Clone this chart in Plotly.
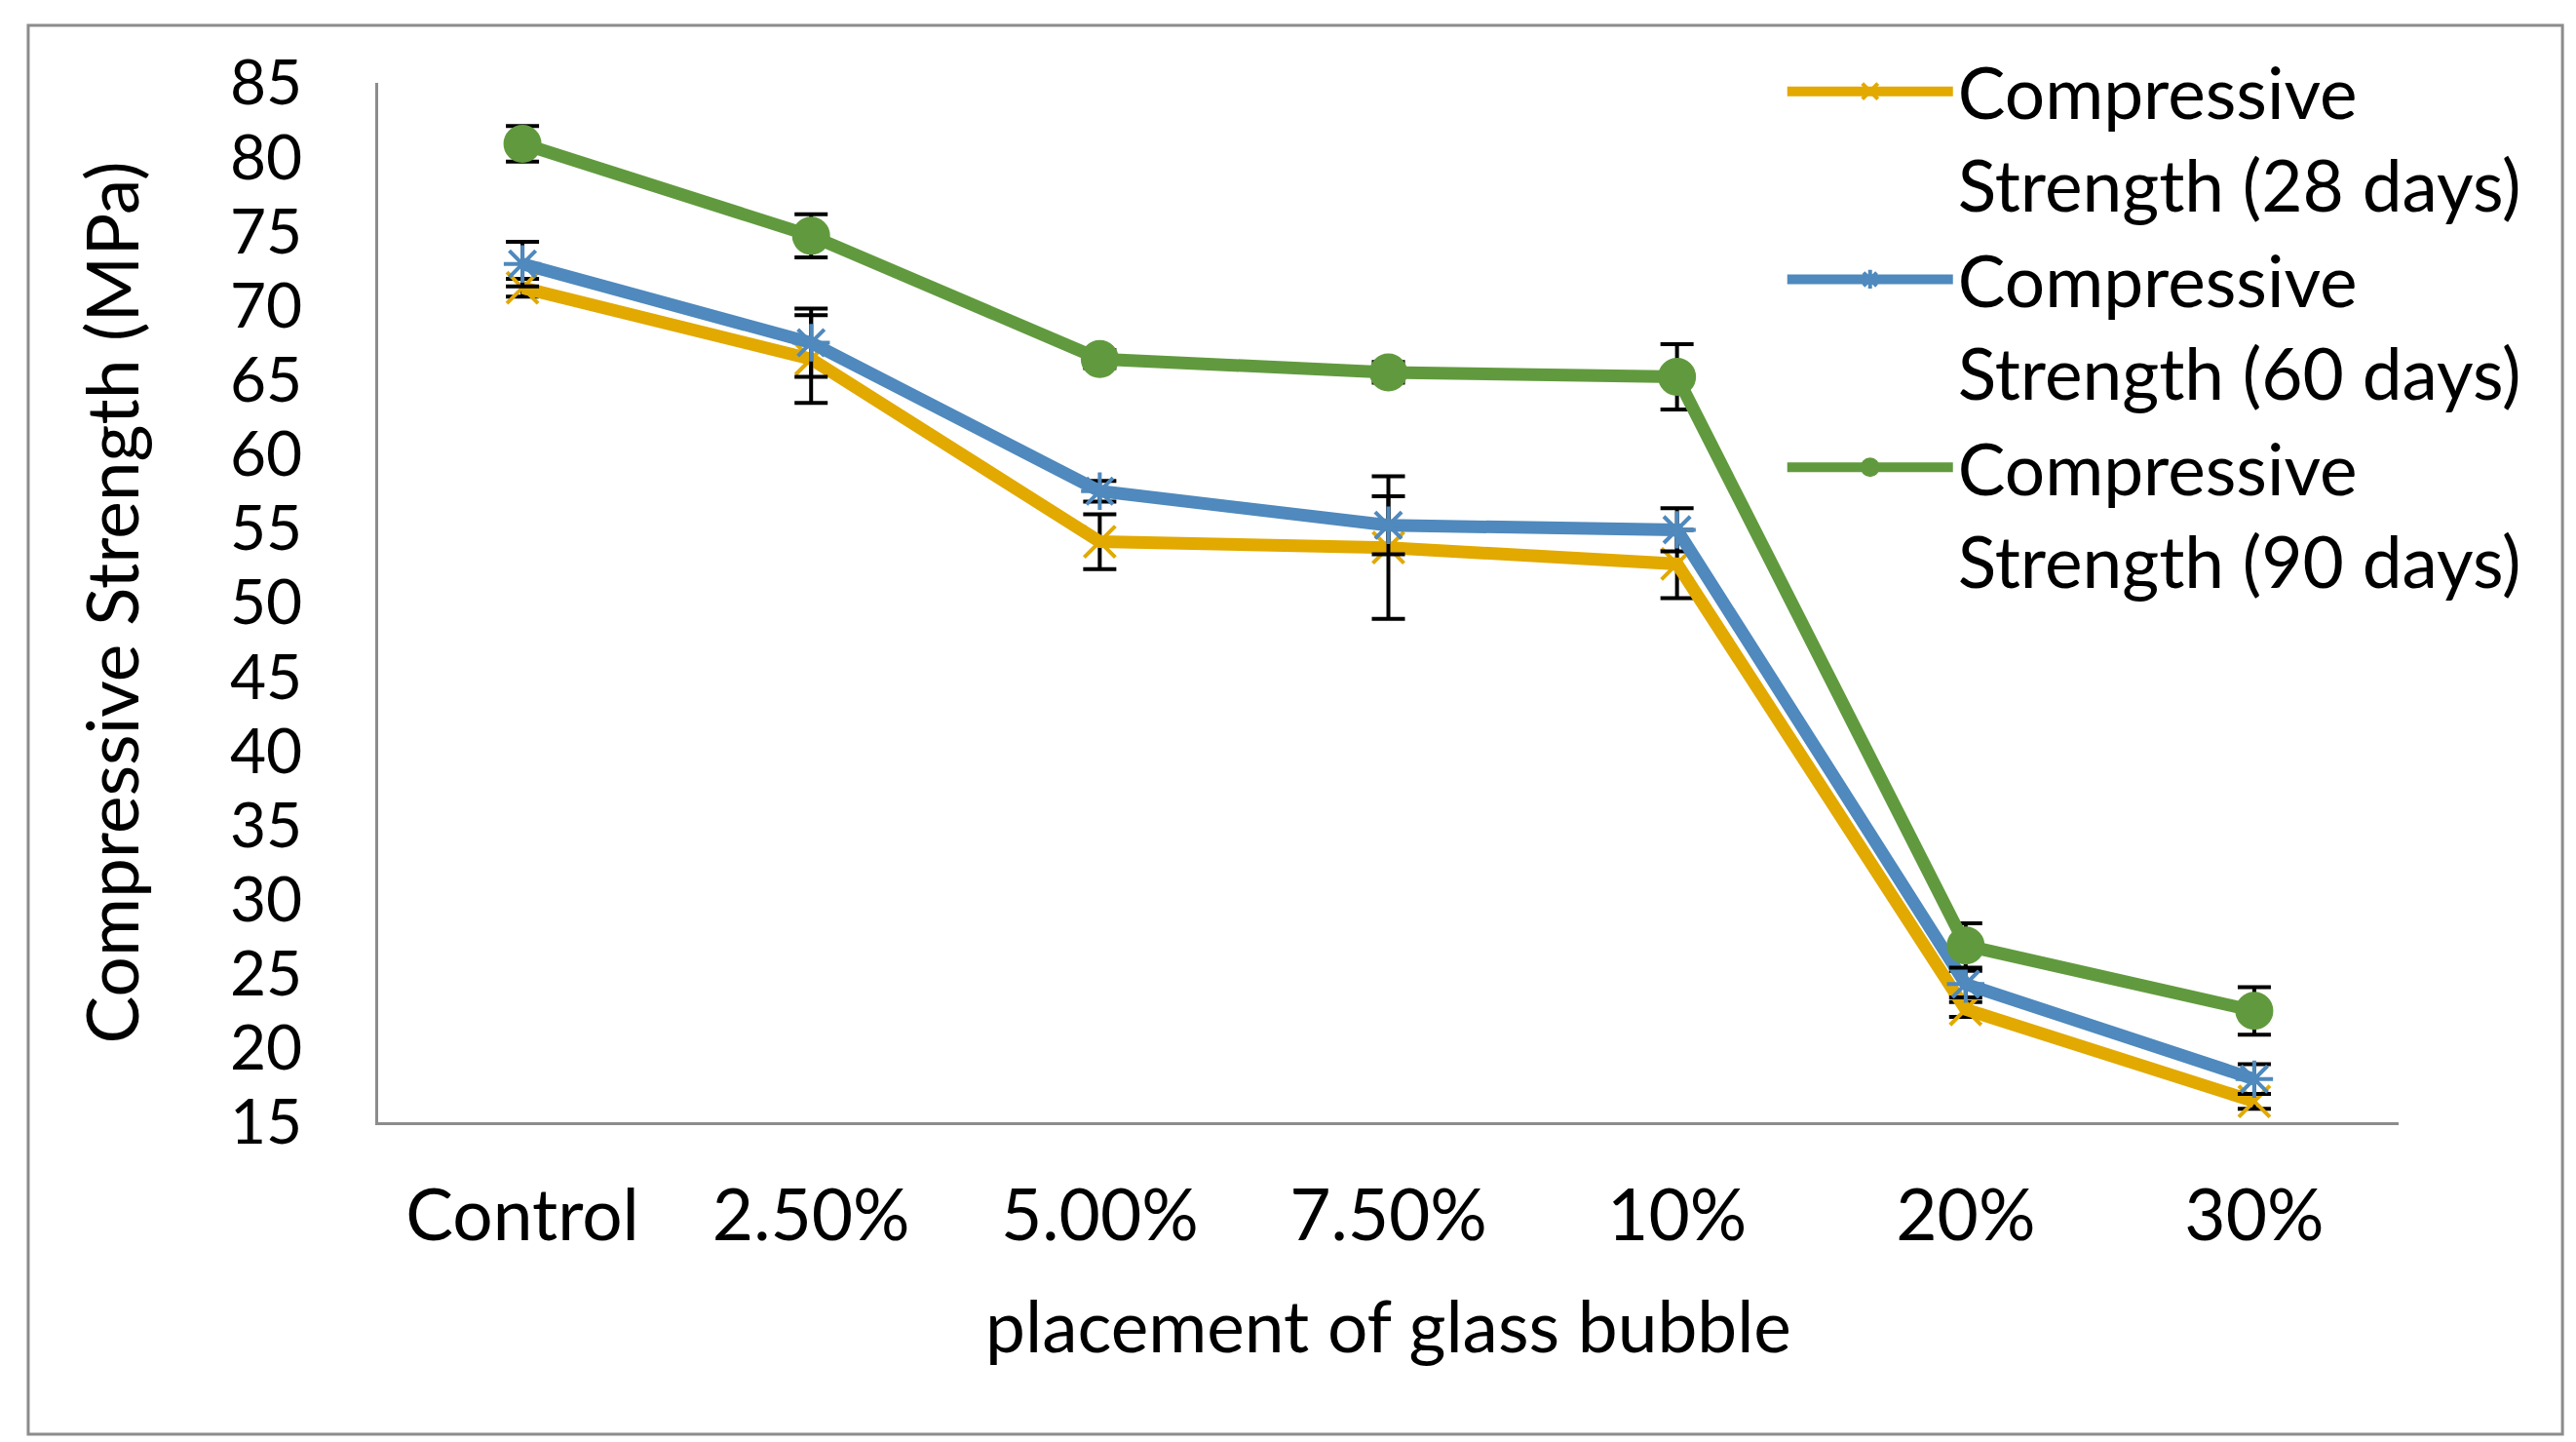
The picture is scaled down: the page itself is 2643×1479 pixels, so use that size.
import plotly.graph_objects as go

categories = ["Control", "2.50%", "5.00%", "7.50%", "10%", "20%", "30%"]

s28 = [71.2, 66.4, 54.1, 53.7, 52.6, 22.6, 16.4]
e28 = [0.6, 2.95, 1.85, 4.8, 2.3, 0.5, 0.5]
s60 = [72.8, 67.5, 57.5, 55.2, 54.9, 24.3, 17.9]
e60 = [1.5, 2.3, 0.7, 1.95, 1.45, 0.9, 1.0]
s90 = [80.9, 74.7, 66.4, 65.5, 65.2, 26.9, 22.5]
e90 = [1.2, 1.45, 0.6, 0.7, 2.2, 1.5, 1.6]

names = ["Compressive<br>Strength (28 days)",
         "Compressive<br>Strength (60 days)",
         "Compressive<br>Strength (90 days)"]

y_ticks = list(range(15, 86, 5))

FONT = "Lato"
FS = 73

fig = go.Figure()

series = [
    (s28, e28, names[0], "#E2A900", "x-thin-open", 32),
    (s60, e60, names[1], "#4F89BD", "asterisk-open", 32),
    (s90, e90, names[2], "#619A3E", "circle", 35),
]
for vals, errs, name, color, sym, size in series:
    fig.add_trace(go.Scatter(
        x=categories, y=vals, name=name, mode="lines+markers",
        line=dict(color=color, width=13),
        marker=dict(symbol=sym, size=size, color=color,
                    line=dict(color=color, width=4)),
        error_y=dict(type="data", array=errs, visible=True,
                     color="black", thickness=4, width=17),
    ))

fig.update_layout(
    width=2643, height=1479,
    paper_bgcolor="white", plot_bgcolor="white",
    margin=dict(l=380, r=190, t=77, b=336),
    font=dict(family=FONT, size=FS, color="black"),
    showlegend=True,
    legend=dict(x=0.695, y=1.0425, xanchor="left", yanchor="top",
                font=dict(family=FONT, size=FS, color="black"),
                bgcolor="rgba(0,0,0,0)", tracegroupgap=0,
                itemwidth=170, valign="top"),
    shapes=[dict(type="rect", xref="paper", yref="paper",
                 x0=-0.1732, x1=1.0811, y0=-0.3002, y1=1.0553,
                 line=dict(color="#8C8C8C", width=3), fillcolor="rgba(0,0,0,0)",
                 layer="below")],
)

fig.update_xaxes(
    type="category", range=[-0.5, 6.5],
    showline=True, linecolor="#8C8C8C", linewidth=3,
    showgrid=False, zeroline=False, ticks="",
    ticklabelstandoff=30,
    tickfont=dict(family=FONT, size=FS),
    title=dict(text="placement of glass bubble", standoff=50,
               font=dict(family=FONT, size=FS)),
)
fig.update_yaxes(
    range=[15, 85], tickmode="array", tickvals=y_ticks,
    ticktext=[str(v) for v in y_ticks],
    showline=True, linecolor="#8C8C8C", linewidth=3,
    showgrid=False, zeroline=False, ticks="",
    ticklabelstandoff=62,
    tickfont=dict(family=FONT, size=64),
    title=dict(text="Compressive Strength (MPa)", standoff=70,
               font=dict(family=FONT, size=FS)),
)

fig.write_html("out.html")
